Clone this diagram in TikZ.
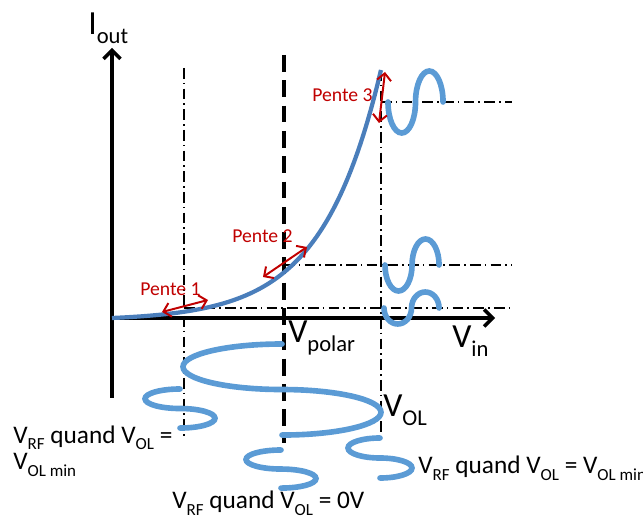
\documentclass[tikz,border=0pt]{standalone}
\usepackage{fontspec}
\setmainfont{Carlito}
\usepackage{graphicx}
\usepackage{xcolor}
\usetikzlibrary{arrows.meta}
\definecolor{curvec}{HTML}{4A7EBB}
\definecolor{wavec}{HTML}{5B9BD5}
\definecolor{slopec}{HTML}{C00000}
\newcommand{\lowtxt}[1]{\raisebox{-0.25em}{\scalebox{0.67}{#1}}}
\tikzset{
  axis/.style={line width=2.5pt, -{Straight Barb[length=6pt,width=12pt]}},
  guide/.style={line width=1.3pt, dash pattern=on 7.5pt off 3pt on 1.2pt off 3pt},
  polarline/.style={line width=2.4pt, dash pattern=on 12pt off 6pt},
  transfer/.style={draw=curvec, line width=3pt},
  wave/.style={draw=wavec, line width=4pt, line cap=round},
  slope/.style={draw=slopec, line width=1.4pt, {Straight Barb[length=5pt,width=10pt]}-{Straight Barb[length=5pt,width=10pt]}},
  slopelabel/.style={text=slopec, font=\fontsize{14}{17}\selectfont, anchor=base, inner sep=0pt},
  biglabel/.style={font=\fontsize{24}{28}\selectfont, anchor=base west, inner sep=0pt},
  note/.style={font=\fontsize{18}{19}\selectfont, anchor=base west, inner sep=0pt, align=left},
}

\begin{document}
\begin{tikzpicture}
\useasboundingbox (0,0) rectangle (16.075,12.900);
\coordinate (O) at (2.800,4.950);
\coordinate (ytop) at (2.800,11.700);
\coordinate (ybot) at (2.800,2.950);
\coordinate (xend) at (12.375,4.950);
\draw[guide] (4.600,11.200) -- (4.600,1.975);
\draw[guide] (9.525,11.150) -- (9.525,1.950);
\draw[guide] (9.525,10.350) -- (12.800,10.350);
\draw[guide] (7.100,6.275) -- (12.800,6.275);
\draw[guide] (4.600,5.200) -- (12.800,5.200);
\draw[polarline] (7.100,11.525) -- (7.100,1.825);
\draw[axis] (ybot) -- (ytop);
\draw[axis] (O) -- (xend);
\draw[transfer] plot[domain=2.8:9.525, samples=80] (\x, {4.95+0.06475*(exp(0.68*(\x-2.8))-1)});
\draw[wave] (9.700,10.350) arc[start angle=180, end angle=360, x radius=0.344, y radius=0.775] arc[start angle=180, end angle=0, x radius=0.344, y radius=0.775];
\draw[wave] (9.625,6.275) arc[start angle=180, end angle=360, x radius=0.338, y radius=0.650] arc[start angle=180, end angle=0, x radius=0.338, y radius=0.650];
\draw[wave] (9.600,5.200) arc[start angle=180, end angle=360, x radius=0.344, y radius=0.400] arc[start angle=180, end angle=0, x radius=0.344, y radius=0.400];
\draw[wave] (7.050,4.300) arc[start angle=90, end angle=270, x radius=2.475, y radius=0.569] arc[start angle=90, end angle=-90, x radius=2.475, y radius=0.569];
\draw[wave] (4.500,3.175) arc[start angle=90, end angle=270, x radius=0.875, y radius=0.244] arc[start angle=90, end angle=-90, x radius=0.875, y radius=0.244];
\draw[wave] (7.025,1.650) arc[start angle=90, end angle=270, x radius=0.875, y radius=0.238] arc[start angle=90, end angle=-90, x radius=0.875, y radius=0.238];
\draw[wave] (9.500,1.950) arc[start angle=90, end angle=270, x radius=0.800, y radius=0.250] arc[start angle=90, end angle=-90, x radius=0.800, y radius=0.250];
\coordinate (p1a) at (4.050,5.100);
\coordinate (p1b) at (5.200,5.400);
\coordinate (p2a) at (6.575,5.975);
\coordinate (p2b) at (7.675,6.725);
\coordinate (p3a) at (9.625,11.100);
\coordinate (p3b) at (9.475,9.825);
\draw[slope] (p1a) -- (p1b);
\draw[slope] (p2a) -- (p2b);
\draw[slope] (p3a) -- (p3b);
\node[slopelabel] (pente1) at (4.262,5.500) {Pente 1};
\node[slopelabel] (pente2) at (6.562,6.825) {Pente 2};
\node[slopelabel] (pente3) at (8.562,10.350) {Pente 3};
\node[biglabel] (iout) at (2.200,12.025) {I\lowtxt{out}};
\node[biglabel] (vin) at (11.300,4.200) {V\lowtxt{in}};
\node[biglabel] (vpolar) at (7.200,4.325) {V\lowtxt{polar}};
\node[biglabel] (vol) at (9.575,2.475) {V\lowtxt{OL}};
\node[note] (vrfmin) at (0.325,1.150) {V\lowtxt{RF} quand V\lowtxt{OL} =\\V\lowtxt{OL min}};
\node[note] (vrfmax) at (10.450,1.050) {V\lowtxt{RF} quand V\lowtxt{OL} = V\lowtxt{OL min}};
\node[note] (vrfzero) at (4.300,0.175) {V\lowtxt{RF} quand V\lowtxt{OL} = 0V};
\end{tikzpicture}
\end{document}
